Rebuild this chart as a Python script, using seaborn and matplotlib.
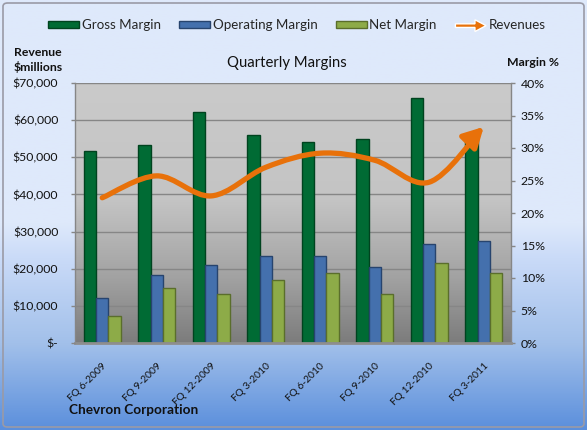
import numpy as np
import pandas as pd
import matplotlib
matplotlib.use("Agg")
import matplotlib.pyplot as plt
import seaborn as sns
from matplotlib.patches import FancyArrowPatch, FancyArrow, Patch, FancyBboxPatch, ArrowStyle
from matplotlib.path import Path
from matplotlib.legend_handler import HandlerPatch
from matplotlib.ticker import FuncFormatter, MultipleLocator
from matplotlib.colors import LinearSegmentedColormap

# ---------------- data ----------------
quarters = ["FQ 6-2009", "FQ 9-2009", "FQ 12-2009", "FQ 3-2010",
            "FQ 6-2010", "FQ 9-2010", "FQ 12-2010", "FQ 3-2011"]
gross_margin = [29.6, 30.5, 35.6, 32.0, 31.0, 31.4, 37.7, 31.5]
operating_margin = [7.0, 10.5, 12.0, 13.4, 13.4, 11.7, 15.3, 15.7]
net_margin = [4.2, 8.5, 7.6, 9.7, 10.7, 7.6, 12.3, 10.7]
revenues = [39100, 45000, 39600, 47300, 51100, 49200, 43300, 58200]
series_names = ["Gross Margin", "Operating Margin", "Net Margin"]

bar_colors = ["#006b34", "#4470ad", "#8dab48"]
edge_colors = ["#00431f", "#27446e", "#5a6e2c"]
orange = "#e8710a"
txt = "#111111"
axis_gray = "#868686"

sns.set_theme(style="white")
plt.rcParams["font.family"] = ["Lato", "DejaVu Sans"]

df = pd.DataFrame({
    "Quarter": quarters * 3,
    "Margin": gross_margin + operating_margin + net_margin,
    "Series": [s for s in series_names for _ in quarters],
})

W, H = 587, 430
fig = plt.figure(figsize=(W / 100, H / 100), dpi=100)

# figure background gradient
fig_bg = fig.add_axes([0, 0, 1, 1], zorder=-10)
fig_cmap = LinearSegmentedColormap.from_list(
    "figbg", [(0.0, "#dfe9fb"), (0.52, "#dee9fb"), (0.60, "#cadbf8"),
              (0.80, "#a2c0ea"), (1.0, "#5b8fdc")])
fig_bg.imshow(np.linspace(0, 1, 256).reshape(-1, 1), cmap=fig_cmap,
              aspect="auto", extent=[0, 1, 0, 1])
fig_bg.set_xlim(0, 1)
fig_bg.set_ylim(0, 1)
fig_bg.axis("off")
fig_bg.add_patch(FancyBboxPatch((3 / W, 3 / H), 1 - 6 / W, 1 - 6 / H,
                                boxstyle="round,pad=0,rounding_size=0.008",
                                fill=False, ec="#9a9aa6", lw=1.2,
                                transform=fig_bg.transAxes))

pos = [75 / W, (H - 343) / H, 436 / W, 260 / H]

# plot-area gradient + gridlines
bg_ax = fig.add_axes(pos, zorder=0)
area_cmap = LinearSegmentedColormap.from_list(
    "areabg", [(0.0, "#cacaca"), (0.45, "#c4c4c4"), (0.75, "#a2a2a2"), (1.0, "#7c7c7c")])
bg_ax.imshow(np.linspace(0, 1, 256).reshape(-1, 1), cmap=area_cmap,
             aspect="auto", extent=[0, 1, 0, 70000])
bg_ax.set_xlim(0, 1)
bg_ax.set_ylim(0, 70000)
bg_ax.yaxis.set_major_locator(MultipleLocator(10000))
bg_ax.grid(axis="y", color=axis_gray, lw=1.0)
bg_ax.set_xticks([])
bg_ax.tick_params(left=False, labelleft=False)
for s in bg_ax.spines.values():
    s.set_visible(False)

# bars (margin %, right axis)
ax = fig.add_axes(pos, zorder=1)
ax.patch.set_alpha(0)
sns.barplot(data=df, x="Quarter", y="Margin", hue="Series", hue_order=series_names,
            palette=bar_colors, width=0.67, gap=0, ax=ax, legend=False,
            saturation=1, linewidth=1.0)
for cont, ec in zip(ax.containers, edge_colors):
    for p in cont.patches:
        p.set_edgecolor(ec)
ax.set_xlim(-0.5, len(quarters) - 0.5)
ax.set_ylim(0, 40)
ax.set_xlabel("")
ax.set_ylabel("")

# revenue line axis (left axis)
ax2 = ax.twinx()
ax2.set_ylim(0, 70000)

# configure right (margin) axis after twinx
ax.yaxis.tick_right()
ax.yaxis.set_major_locator(MultipleLocator(5))
ax.yaxis.set_major_formatter(FuncFormatter(lambda v, p: f"{v:.0f}%"))
ax.tick_params(axis="y", right=True, left=False, labelright=True, labelleft=False,
               length=3, width=1, color=axis_gray, pad=4, labelsize=8.8, labelcolor=txt)
ax.tick_params(axis="x", bottom=False, labelsize=7.4, labelcolor=txt, pad=7)
for lab in ax.get_xticklabels():
    lab.set_rotation(45)
    lab.set_ha("right")
    lab.set_rotation_mode("anchor")
for name, s in ax.spines.items():
    s.set_visible(True)
    s.set_color(axis_gray)
    s.set_linewidth(1.0)
ax.spines["top"].set_visible(False)
ax.spines["bottom"].set_linewidth(2)
ax.spines["bottom"].set_color("#8e8e8e")

ax2.yaxis.tick_left()
ax2.yaxis.set_major_locator(MultipleLocator(10000))
ax2.yaxis.set_major_formatter(FuncFormatter(lambda v, p: "$-" if v == 0 else f"${v:,.0f}"))
ax2.tick_params(axis="y", left=True, right=False, labelleft=True, labelright=False,
                length=3, width=1, color=axis_gray, pad=9, labelsize=8.8, labelcolor=txt)
for s in ax2.spines.values():
    s.set_visible(False)

xs = np.arange(len(revenues), dtype=float)
ys = np.array(revenues, dtype=float)
pts = np.column_stack([xs, ys])
ext = np.vstack([pts[0], pts, pts[-1]])
verts = [tuple(pts[0])]
codes = [Path.MOVETO]
for i in range(len(pts) - 1):
    p0, p1, p2, p3 = ext[i], ext[i + 1], ext[i + 2], ext[i + 3]
    c1 = p1 + (p2 - p0) / 6.0
    c2 = p2 - (p3 - p1) / 6.0
    verts += [tuple(c1), tuple(c2), tuple(p2)]
    codes += [Path.CURVE4] * 3
arrow = FancyArrowPatch(path=Path(verts, codes),
                        arrowstyle=ArrowStyle("-|>", head_length=1.2, head_width=0.65),
                        mutation_scale=10, lw=3.8, color=orange,
                        transform=ax2.transData, capstyle="round", joinstyle="round")
ax2.add_patch(arrow)

# legend
def make_arrow(legend, orig_handle, xdescent, ydescent, width, height, fontsize):
    return FancyArrow(0, height / 2, width, 0, width=2.6, head_width=8.5,
                      head_length=8, length_includes_head=True, color=orange)

handles = [Patch(facecolor=c, edgecolor=e, lw=1.0) for c, e in zip(bar_colors, edge_colors)]
handles.append(Patch(facecolor=orange))
labels = series_names + ["Revenues"]
fig.legend(handles, labels, loc="center", bbox_to_anchor=(297 / W, 1 - 25 / H),
           ncol=4, frameon=False, fontsize=9.6, handlelength=2.3, handleheight=0.4,
           handletextpad=0.2, columnspacing=1.4,
           handler_map={handles[3]: HandlerPatch(patch_func=make_arrow)})

# texts
fig.text(287 / W, 1 - 63 / H, "Quarterly Margins", ha="center", va="center",
         fontsize=10.7, color=txt)
fig.text(38 / W, 1 - 60 / H, "Revenue\n$millions", ha="center", va="center",
         fontsize=8.8, fontweight="bold", color=txt, linespacing=1.3)
fig.text(533 / W, 1 - 63 / H, "Margin %", ha="center", va="center",
         fontsize=8.8, fontweight="bold", color=txt)
fig.text(69 / W, 1 - 410 / H, "Chevron Corporation", ha="left", va="center",
         fontsize=9.8, fontweight="bold", color=txt)

fig.savefig("out.png", dpi=100)
